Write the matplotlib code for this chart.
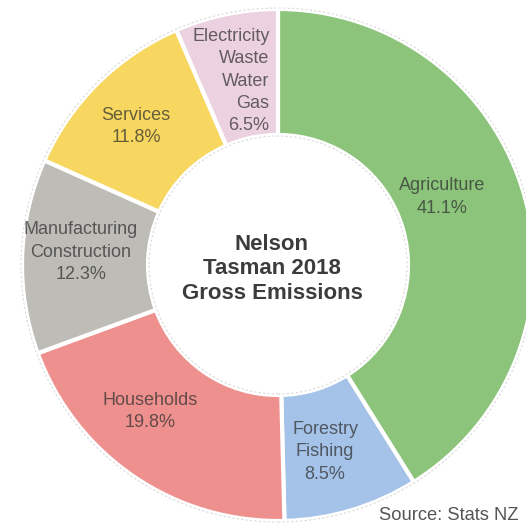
import numpy as np
import matplotlib.pyplot as plt
from matplotlib.patches import Circle

plt.rcParams['font.family'] = ['Liberation Sans', 'DejaVu Sans']

sectors = ['Agriculture', 'Forestry\nFishing', 'Households',
           'Manufacturing\nConstruction', 'Services',
           'Electricity\nWaste\nWater\nGas']
shares = [41.1, 8.5, 19.8, 12.3, 11.8, 6.5]
colors = ['#8cc47c', '#a5c3e8', '#ee918e', '#bdbcb7', '#f7d75f', '#ecd2e0']

title = 'Nelson\nTasman 2018\nGross Emissions'
source = 'Source: Stats NZ'

# figure in pixel units: 1 data unit = 1 px
fig = plt.figure(figsize=(5.26, 5.30), dpi=100)
ax = fig.add_axes([0, 0, 1, 1])
cx, cy = 278, 265
ax.set_aspect('equal')
ax.axis('off')

r_out, r_in = 256, 130
wedges, _ = ax.pie(shares, colors=colors, radius=r_out, startangle=90,
                   counterclock=False,
                   wedgeprops=dict(width=r_out - r_in, edgecolor='white',
                                   linewidth=3))
# faint rim around the ring
for r in (r_out + 1, r_in - 1):
    ax.add_patch(Circle((0, 0), r, fill=False, edgecolor='#d9d9d9',
                        linewidth=0.8, linestyle=(0, (2, 2))))
ax.set_xlim(-cx, 526 - cx)
ax.set_ylim(-(530 - cy), cy)

# label nudges (px) from the middle of each ring segment
nudges = [(-23, 14), (-9, 0), (-18, 15), (-2, 6), (-5, 0), (31, -7)]
label_r = 195
for w, name, val, (dx, dy) in zip(wedges, sectors, shares, nudges):
    mid = np.deg2rad((w.theta1 + w.theta2) / 2)
    x = label_r * np.cos(mid) + dx
    y = label_r * np.sin(mid) + dy
    ha = 'right' if name.startswith('Electricity') else 'center'
    ax.text(x, y, f'{name}\n{val}%', ha=ha, va='center', fontsize=13,
            color='#2e2e2e', alpha=0.72, linespacing=1.42,
            multialignment=ha)

ax.text(-6, -4, title, ha='center', va='center', fontsize=16,
        fontweight='bold', color='#3c3c3c', linespacing=1.2)
ax.text(241, -251, source, ha='right', va='center', fontsize=13.2,
        color='#555555')

fig.savefig('out.png', dpi=100)
